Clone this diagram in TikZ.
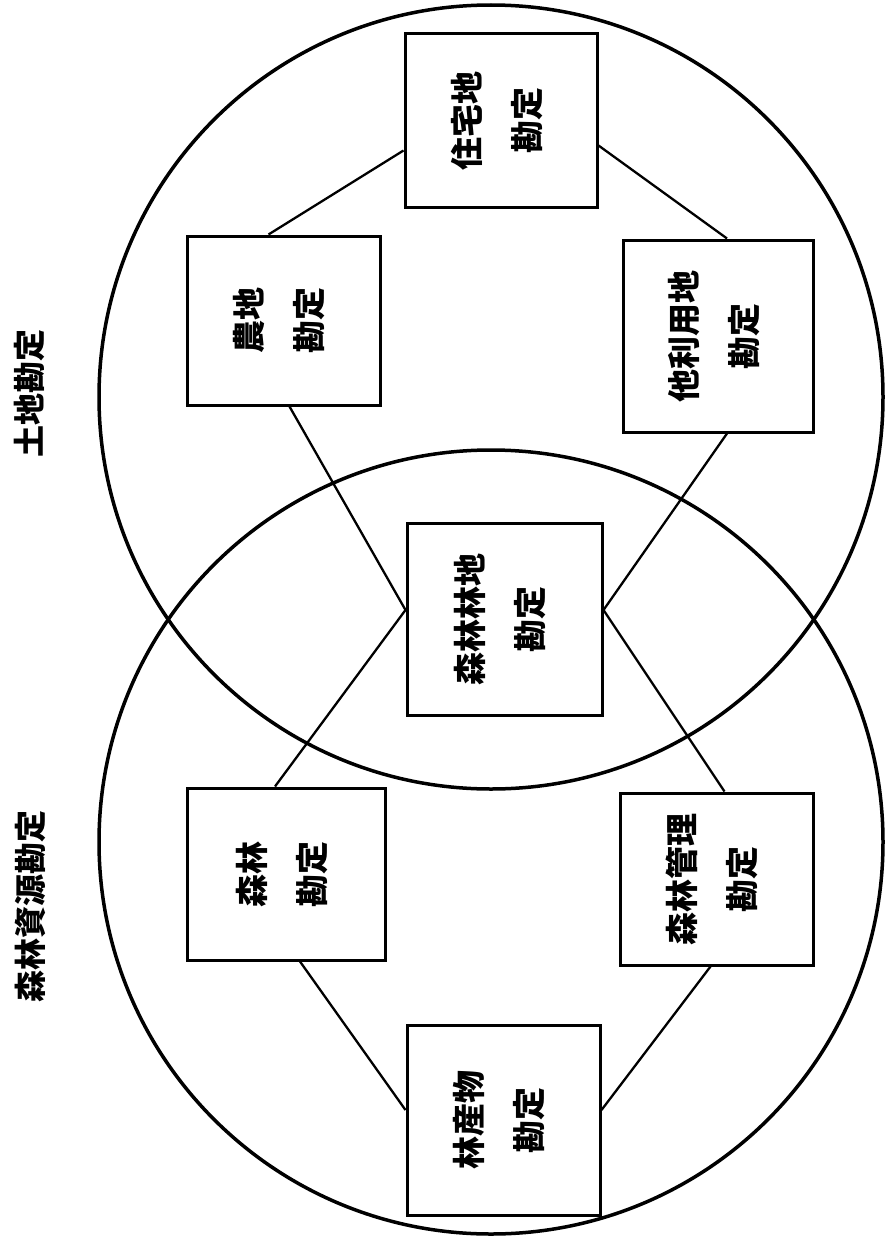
\documentclass[tikz,border=0pt]{standalone}
\usepackage{fontspec}
\newfontfamily\jp{Noto Sans CJK JP}
\newcommand{\vtwo}[2]{\rotatebox{90}{\begin{tabular}{@{}c@{}}#1\\[20pt]#2\end{tabular}}}
\tikzset{
  acct/.style={draw, line width=3pt, rectangle, inner sep=0pt, font=\jp\bfseries\fontsize{33}{40}\selectfont},
  ring/.style={draw, line width=3.5pt},
  link/.style={draw, line width=2.3pt},
  biglabel/.style={rotate=90, inner sep=0pt, font=\jp\bfseries\fontsize{32}{38}\selectfont}
}
\begin{document}
\begin{tikzpicture}[x=1pt, y=-1pt]
\useasboundingbox (0,0) rectangle (890,1247);
\fill[white] (0,0) rectangle (890,1247);
% circles
\draw[ring] (491,397) circle[radius=392pt];
\draw[ring] (491,842) circle[radius=392pt];
% boxes
\node[acct, minimum width=192pt, minimum height=173pt] (zhu) at (501,120.5) {\vtwo{住宅地}{勘定}};
\node[acct, minimum width=193pt, minimum height=169pt] (nochi) at (283.5,320.5) {\vtwo{農地}{勘定}};
\node[acct, minimum width=190pt, minimum height=192pt] (tari) at (718,336) {\vtwo{他利用地}{勘定}};
\node[acct, minimum width=195pt, minimum height=192pt] (rinchi) at (504.5,619) {\vtwo{森林林地}{勘定}};
\node[acct, minimum width=198pt, minimum height=172pt] (shinrin) at (286,874) {\vtwo{森林}{勘定}};
\node[acct, minimum width=193pt, minimum height=172pt] (kanri) at (716.5,879) {\vtwo{森林管理}{勘定}};
\node[acct, minimum width=193pt, minimum height=190pt] (rinsan) at (503.5,1120) {\vtwo{林産物}{勘定}};
% connectors
\draw[link] ([xshift=-15pt]nochi.north) -- ([yshift=-30pt]zhu.west);
\draw[link] ([yshift=-25pt]zhu.east) -- ([xshift=9pt]tari.north);
\draw[link] ([xshift=6pt]nochi.south) -- ([yshift=9pt]rinchi.west);
\draw[link] ([xshift=9pt]tari.south) -- ([yshift=9pt]rinchi.east);
\draw[link] ([yshift=9pt]rinchi.west) -- ([xshift=-11pt]shinrin.north);
\draw[link] ([yshift=9pt]rinchi.east) -- ([xshift=8pt]kanri.north);
\draw[link] ([xshift=14pt]shinrin.south) -- ([yshift=10pt]rinsan.west);
\draw[link] ([xshift=-6pt]kanri.south) -- ([yshift=10pt]rinsan.east);
% outer labels
\node[biglabel] (land) at (29,393) {土地勘定};
\node[biglabel] (forest) at (30,906) {森林資源勘定};
\end{tikzpicture}
\end{document}
